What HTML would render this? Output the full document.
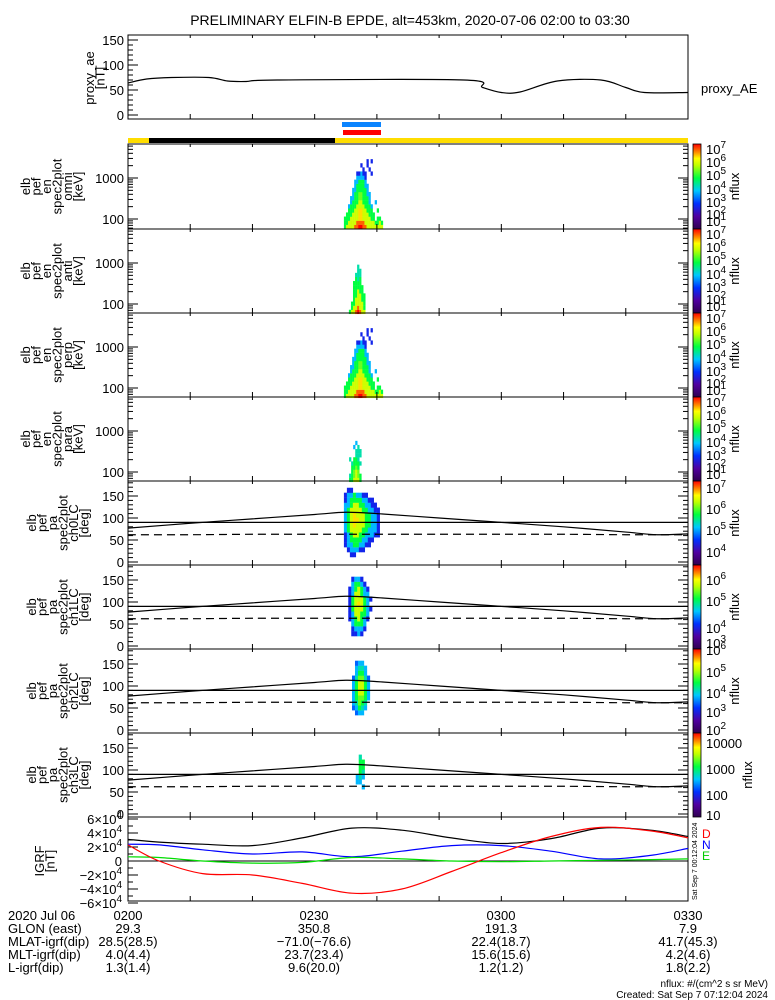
<!DOCTYPE html>
<html><head><meta charset="utf-8"><style>
body{margin:0;background:#fff}
svg{display:block;font-family:"Liberation Sans",sans-serif}
text{fill:#000}
</style></head><body>
<svg id="c" width="775" height="1000" viewBox="0 0 775 1000"></svg>
<script>
// ---------- data ----------
const aeTimes=[0,3,7,13,16,19,24,54,57,60,63,69,76,80,83,90];
const aeValues=[64,72,75,75,68,67,70,70,55,45,46,68,70,55,45,45];
const lcTimes=[0,10,20,30,35,40,50,60,70,80,85,90];
const lcValues=[77,88,98,108,113,110,100,90,80,68,62,64];
const alcValues=[62,62,63,63,63,63,63,63,63,62,62,62];
const igrfTimes=[0,5,12,20,28,36,44,52,60,68,76,84,90];
const igrfBlack=[31,27,24,22,33,47,44,33,25,32,47,44,35];
const igrfRed=[23,0,-18,-20,-32,-46,-40,-15,12,35,48,43,33];
const igrfBlue=[24,23,16,10,13,6,14,22,22,14,3,8,18];
const igrfGreen=[6,5,0,-3,-2,5,3,0,-1,0,1,2,3];
const omniStart=34.7;
const omni=[
[4,5,5,5,5,6,6,6.5,6.5,6,6,5,5,5,5,5,5,5,5],
[4,4,5,5,5,5,6,6,6,6,5,5,5,5,5,4,4,5,4],
[4,4,4,5,5,5,5,5.5,5.5,5,5,5,5,4,4,0,4,4,0],
[0,4,4,4,5,5,5,5.5,5.5,5,5,5,4,4,4,0,0,0,0],
[0,0,4,4,4,5,5,5.5,5.5,5,5,4,4,4,0,0,4,0,0],
[0,0,3,4,4,4,5,5,5,5,4,4,4,3,0,0,0,0,0],
[0,0,0,3,4,4,4,5,5,4,4,4,3,0,0,3,0,0,0],
[0,0,0,3,3,4,4,4.5,4.5,4,4,4,3,0,0,0,0,0,0],
[0,0,0,0,3,4,4,4.5,4.5,4,4,3,3,0,0,0,0,0,0],
[0,0,0,0,3,3,4,4,4,4,4,3,0,0,0,0,0,0,0],
[0,0,0,0,0,3,4,4,4,4,3,3,0,0,0,0,0,0,0],
[0,0,0,0,0,3,3,4,4,4,3,0,0,0,0,0,0,0,0],
[0,0,0,0,0,0,3,3,3,3,2,0,0,0,0,0,0,0,0],
[0,0,0,0,0,0,2,2,3,2,2,0,0,2,0,0,0,0,0],
[0,0,0,0,0,0,0,0,0,2,0,0,2,0,0,0,0,0,0],
[0,0,0,0,0,0,0,0,2,0,0,2,0,0,0,0,0,0,0],
[0,0,0,0,0,0,0,0,0,0,0,2,0,2,0,0,0,0,0],
[0,0,0,0,0,0,0,0,0,0,0,0,0,0,0,0,0,0,0]];
const antiStart=35.5;
const anti=[
[4,5,5,6,6.5,6,5,5,0],
[0,4,5,5,6,5,5,4,0],
[0,4,4,5,5,5,5,4,0],
[0,0,4,5,5,5,4,4,0],
[0,0,4,4,5,5,4,4,0],
[0,0,4,4,5,4,4,0,0],
[0,0,4,4,4,4,4,0,0],
[0,0,4,4,4,4,0,0,0],
[0,0,0,4,3.5,4,0,0,0],
[0,0,0,3.5,3.5,3.5,0,0,0],
[0,0,0,0,3.5,3.5,0,0,0],
[0,0,0,0,3.5,0,0,0,0]];
const perpStart=34.7;
const perp=omni;
const paraStart=35.2;
const para=[
[0,4,4,5,5,5,4,0,0],
[0,3.5,4,4.5,5,4.5,4,0,0],
[0,0,4,4.5,5,4.5,0,0,0],
[0,0,4,4,4.5,4,0,0,0],
[0,0,3.5,4,4,4,3.5,0,0],
[0,3.5,0,4,4,3.5,0,0,0],
[0,0,0,0,3.5,3.5,3.5,0,0],
[0,0,0,0,3.5,3.5,3.5,0,0],
[0,0,0,3,0,3.5,0,0,0],
[0,0,0,0,3,0,0,0,0]];
const ch0Start=34.7;
const ch0=[
[0,0,0,0,0,0,0,0,0,0,0,0],
[0,0,2,2,0,0,0,0,0,0,0,0],
[0,2,3,3,3,2,2,0,0,0,0,0],
[2,3,3,4,4,3,3,2,2,0,0,0],
[2,3,4,4,4,4,3,3,2,2,0,0],
[2,3,4,5,5,4,4,3,3,3,2,2],
[3,4,5,5,5,5,4,4,3,3,3,2],
[3,4,5,5.5,5,5,5,4,4,3,3,2],
[3,4,5,5.5,5.5,5,5,4,4,3,3,2],
[3,4,5,5.5,5,5,5,4,4,3,3,2],
[3,4,5,5,5,5,4,4,3,3,2,2],
[3,3,4,5,5,4,4,3,3,2,2,0],
[2,3,4,4,4,4,3,3,2,2,0,0],
[2,3,3,4,3,3,2,2,0,0,0,0],
[0,2,2,0,0,0,0,0,0,0,0,0]];
const ch1Start=35.4;
const ch1=[
[0,0,0,0,0,0,0,0],
[0,0,0,0,0,0,0,0],
[0,2,2,3,2,0,0,0],
[0,2,3,3,3,2,0,0],
[0,3,4,4,4,3,0,0],
[2,3,4,5,4,3,2,0],
[2,3,5,5,4,4,3,0],
[2,4,5,5,5,4,3,2],
[2,4,5,5.5,5,4,3,0],
[2,4,5,5,5,4,3,2],
[2,3,5,5,4,3,3,0],
[2,3,4,5,4,3,2,0],
[0,3,4,4,3,2,0,0],
[0,2,3,3,2,0,0,0]];
const ch2Start=36.0;
const ch2=[
[0,0,0,0,0,0],[0,0,0,0,0,0],[0,0,0,0,0,0],
[0,2.5,3,3,0,0],
[2.5,3,4,3.5,3,0],
[3,3.5,4.5,4,3.5,0],
[3,4,4.5,4.5,4,3],
[3,4,5,5,4,3],
[3,4,5,5,4,3],
[3,4,5,5,4,3],
[2.5,3.5,4.5,4.5,3.5,2.5],
[0,3,4,4,3,0],
[0,3,3.5,3.5,3,0],
[0,2.5,3,3,0,0]];
const ch3Start=36.6;
const ch3=[
[0,0,0,0],[0,0,0,0],[0,0,0,0],[0,0,0,0],[0,0,0,0],
[0,0,3,0],[3,3,0,0],[3,3.5,3,0],[0,4,3.5,0],[0,4,4,0],[0,4,4,0],[0,3.5,0,0]];
const xTickLabels=["0200","0230","0300","0330"];
const glon=["29.3","350.8","191.3","7.9"];
const mlat=["28.5(28.5)","\u221271.0(\u221276.6)","22.4(18.7)","41.7(45.3)"];
const mlt=["4.0(4.4)","23.7(23.4)","15.6(15.6)","4.2(4.6)"];
const lval=["1.3(1.4)","9.6(20.0)","1.2(1.2)","1.8(2.2)"];

// ---------- helpers ----------
const NS="http://www.w3.org/2000/svg";
const svg=document.getElementById('c');
function mk(tag,attrs,parent){const e=document.createElementNS(NS,tag);for(const k in attrs)e.setAttribute(k,attrs[k]);(parent||svg).appendChild(e);return e;}
const X0=128,X1=688;
function xT(t){return X0+t*(X1-X0)/90;}
const stops=[[0,[48,0,80]],[0.15,[80,0,160]],[0.3,[0,48,255]],[0.45,[0,200,255]],[0.6,[0,255,64]],[0.75,[192,255,0]],[0.83,[255,255,0]],[0.9,[255,144,0]],[1,[255,0,0]]];
function cmap(v){let t=Math.max(0,Math.min(1,(v-0.4)/6));for(let i=1;i<stops.length;i++){if(t<=stops[i][0]){const a=stops[i-1],b=stops[i];const f=(t-a[0])/(b[0]-a[0]);const c=a[1].map((x,j)=>Math.round(x+(b[1][j]-x)*f));return `rgb(${c})`;}}return 'rgb(255,0,0)';}
function txt(x,y,s,size,anchor,parent){const e=mk('text',{x:x,y:y,'font-size':size||13,'text-anchor':anchor||'start'},parent);e.textContent=s;return e;}
function smooth(times,vals,xf,yf,color,dash,parent){const P=times.map((t,i)=>[xf(t),yf(vals[i])]);let d='M'+P[0][0]+','+P[0][1];
 for(let i=0;i<P.length-1;i++){const p0=P[Math.max(0,i-1)],p1=P[i],p2=P[i+1],p3=P[Math.min(P.length-1,i+2)];
  const c1=[p1[0]+(p2[0]-p0[0])/6,p1[1]+(p2[1]-p0[1])/6],c2=[p2[0]-(p3[0]-p1[0])/6,p2[1]-(p3[1]-p1[1])/6];
  d+=` C${c1[0]},${c1[1]} ${c2[0]},${c2[1]} ${p2[0]},${p2[1]}`;}
 const e=mk('path',{d:d,fill:'none',stroke:color,'stroke-width':1.2},parent);if(dash)e.setAttribute('stroke-dasharray',dash);return e;}

// gradient
const defs=mk('defs',{});
const lg=mk('linearGradient',{id:'cb',x1:0,y1:1,x2:0,y2:0},defs);
stops.forEach(s=>{mk('stop',{offset:s[0],'stop-color':`rgb(${s[1]})`},lg);});

// title
let e=txt(410,25,"PRELIMINARY ELFIN-B EPDE, alt=453km, 2020-07-06 02:00 to 03:30",14,'middle');



function xTicks(g,bottom,top){for(let m=0;m<=90;m+=10){const x=xT(m);mk('line',{x1:x,x2:x,y1:bottom,y2:bottom-5,stroke:'#000'},g);mk('line',{x1:x,x2:x,y1:top,y2:top+3,stroke:'#000'},g);}}
function frame(g,top,bottom){const r=mk('rect',{x:X0,y:top,width:X1-X0,height:bottom-top,fill:'none',stroke:'#000','stroke-width':1},g);xTicks(g,bottom,top);}
function yLabel(g,lines,x0,cy){lines.forEach((s,i)=>{const t=mk('text',{x:0,y:0,'font-size':13,'text-anchor':'middle',transform:`translate(${x0+i*10.5},${cy}) rotate(-90)`},g);t.textContent=s;});}
function colorbar(g,top,bottom,labels,nfx){const r=mk('rect',{x:693,y:top,width:8,height:bottom-top,fill:'url(#cb)',stroke:'#000','stroke-width':0.8},g);
labels.forEach(l=>{const t=mk('text',{x:706,y:l[1]+5,'font-size':13},g);if(l[2]===undefined){t.textContent=l[0];}else{t.textContent='10';const s=mk('tspan',{dy:-6,'font-size':10},t);s.textContent=l[2];}});
const n=mk('text',{x:0,y:0,'font-size':13,'text-anchor':'middle',transform:`translate(${nfx||739},${(top+bottom)/2}) rotate(-90)`},g);n.textContent='nflux';}

// ---------- proxy AE ----------
let g=mk('g',{});


const yAE=v=>115-v*0.5;
frame(g,35,119);
for(let v=0;v<=150;v+=10){const y=yAE(v);const L=v%50===0?10:5;mk('line',{x1:X0,x2:X0+L,y1:y,y2:y,stroke:'#000'},g);}
[0,50,100,150].forEach(v=>txt(124,yAE(v)+5,String(v),13,'end',g));
yLabel(g,["proxy_ae","[nT]"],94,78);
e=smooth(aeTimes,aeValues,xT,yAE,'#000',null,g);


txt(701,93,"proxy_AE",13,'start',g);

// bars
e=mk('rect',{x:342,y:122,width:39,height:5,fill:'#0a84ff'});


e=mk('rect',{x:343,y:130,width:38,height:5,fill:'#ff0000'});


e=mk('rect',{x:128,y:138,width:560,height:5,fill:'#ffdd00'});


e=mk('rect',{x:149,y:138,width:186,height:5,fill:'#000'});



// ---------- energy spectrograms ----------
const cbSpec=[["",5,"7"],["",18,"6"],["",31,"5"],["",45,"4"],["",58,"3"],["",70,"2"],["",77,"1"]];
function specPanel(name,top,bottom,data,start,lab){
 const g=mk('g',{});
 
 
 const yE=le=>top+34-41*(le-3);
 data.forEach((row,b)=>{row.forEach((v,i)=>{if(!v)return;const t=start+i*0.33;const x=xT(t);const y1=yE(1.76+0.1*(b+1)),y2=yE(1.76+0.1*b);
  const r=mk('rect',{x:x,y:Math.max(top,y1),width:xT(t+0.33)-x+0.2,height:y2-Math.max(top,y1)+0.2,fill:cmap(v)},g);
  
  });});
 frame(g,top,bottom);
 for(let d=1;d<=3;d++){for(let k=1;k<10;k++){const le=d+Math.log10(k);const y=yE(le);if(y<top||y>bottom)continue;const L=k===1?10:5;mk('line',{x1:X0,x2:X0+L,y1:y,y2:y,stroke:'#000'},g);mk('line',{x1:X1,x2:X1-L,y1:y,y2:y,stroke:'#000'},g);}}
 txt(124,yE(3)+5,"1000",13,'end',g);txt(124,yE(2)+5,"100",13,'end',g);
 yLabel(g,["elb","pef","en","spec2plot",lab,"[keV]"],30,(top+bottom)/2);
 colorbar(g,top,bottom,cbSpec.map(l=>[l[0],top+l[1],l[2]]));
}
specPanel('omni',144,229,omni,omniStart,'omni');
specPanel('anti',229,313,anti,antiStart,'anti');
specPanel('perp',313,397,perp,perpStart,'perp');
specPanel('para',397,481,para,paraStart,'para');

// ---------- pitch angle ----------
function paPanel(name,top,bottom,data,start,cbl,nfx){
 const g=mk('g',{});
 
 
 const yP=p=>top+81-p*0.44;
 data.forEach((row,b)=>{row.forEach((v,i)=>{if(!v)return;const t=start+i*0.48;const x=xT(t);const y1=yP((b+1)*11.25),y2=yP(b*11.25);
  const r=mk('rect',{x:x,y:y1,width:xT(t+0.48)-x+0.2,height:y2-y1+0.2,fill:cmap(v)},g);
  
  });});
 frame(g,top,bottom);
 for(let p=0;p<=180;p+=10){const y=yP(p);const L=p%50===0?10:5;mk('line',{x1:X0,x2:X0+L,y1:y,y2:y,stroke:'#000'},g);mk('line',{x1:X1,x2:X1-L,y1:y,y2:y,stroke:'#000'},g);}
 [0,50,100,150].forEach(v=>txt(124,yP(v)+5,String(v),13,'end',g));
 yLabel(g,["elb","pef","pa","spec2plot",name+"LC","[deg]"],36,(top+bottom)/2);
 let l=smooth(lcTimes,lcValues,xT,yP,'#000',null,g);
 
 
 l=smooth(lcTimes,alcValues,xT,yP,'#000','8,5',g);
 
 
 l=mk('line',{x1:X0,x2:X1,y1:yP(90),y2:yP(90),stroke:'#000','stroke-width':1.2},g);
 
 
 colorbar(g,top,bottom,cbl,nfx);
}
paPanel('ch0',481,565,ch0,ch0Start,[["",488,"7"],["",509,"6"],["",530,"5"],["",552,"4"]]);
paPanel('ch1',565,649,ch1,ch1Start,[["",580,"6"],["",601,"5"],["",628,"4"],["",643,"3"]]);
paPanel('ch2',649,733,ch2,ch2Start,[["",650,"6"],["",672,"5"],["",693,"4"],["",712,"3"],["",730,"2"]]);
paPanel('ch3',733,817,ch3,ch3Start,[["10000",743],["1000",769],["100",795],["10",815]],752);

// ---------- IGRF ----------
g=mk('g',{});


const yB=v=>861-v*0.7;
frame(g,817,901);
for(let v=-60;v<=60;v+=10){const y=yB(v);const L=v%20===0?10:5;mk('line',{x1:X0,x2:X0+L,y1:y,y2:y,stroke:'#000'},g);}
[-60,-40,-20,20,40,60].forEach(v=>{const t=mk('text',{x:122,y:yB(v)+5,'font-size':13,'text-anchor':'end'},g);t.textContent=(v<0?'\u2212':'')+Math.abs(v/10)+'\u00d710';const s=mk('tspan',{dy:-6,'font-size':10},t);s.textContent='4';});
txt(122,yB(0)+5,"0",13,'end',g);
e=mk('line',{x1:X0,x2:X1,y1:yB(0),y2:yB(0),stroke:'#000'},g);
yLabel(g,["IGRF","[nT]"],44,861);
[[igrfBlack,'#000','igrf-total-line'],[igrfBlue,'#0000ff','igrf-n-line'],[igrfGreen,'#00dd00','igrf-e-line'],[igrfRed,'#ff0000','igrf-d-line']].forEach(s=>{const l=smooth(igrfTimes,s[0],xT,yB,s[1],null,g);});
e=txt(702,838,"D",12,'start',g);e.style.fill='#ff0000';
e=txt(702,849,"N",12,'start',g);e.style.fill='#0000ff';
e=txt(702,860,"E",12,'start',g);e.style.fill='#00cc00';
e=mk('text',{x:0,y:0,'font-size':7,transform:'translate(697,900) rotate(-90)'},g);e.textContent="Sat Sep  7 00:12:04 2024";

// ---------- bottom annotations ----------
g=mk('g',{});


const rowsY=[920,933,946,959,972];
["2020 Jul 06","GLON (east)","MLAT-igrf(dip)","MLT-igrf(dip)","L-igrf(dip)"].forEach((s,i)=>txt(8,rowsY[i],s,13,'start',g));
const colX=[128,314,501,688];
[xTickLabels,glon,mlat,mlt,lval].forEach((arr,r)=>arr.forEach((s,i)=>txt(colX[i],rowsY[r],s,13,'middle',g)));
e=txt(768,987,"nflux: #/(cm^2 s sr MeV)",10,'end');


e=txt(768,998,"Created: Sat Sep  7 07:12:04 2024",10,'end');


</script>
</body></html>
